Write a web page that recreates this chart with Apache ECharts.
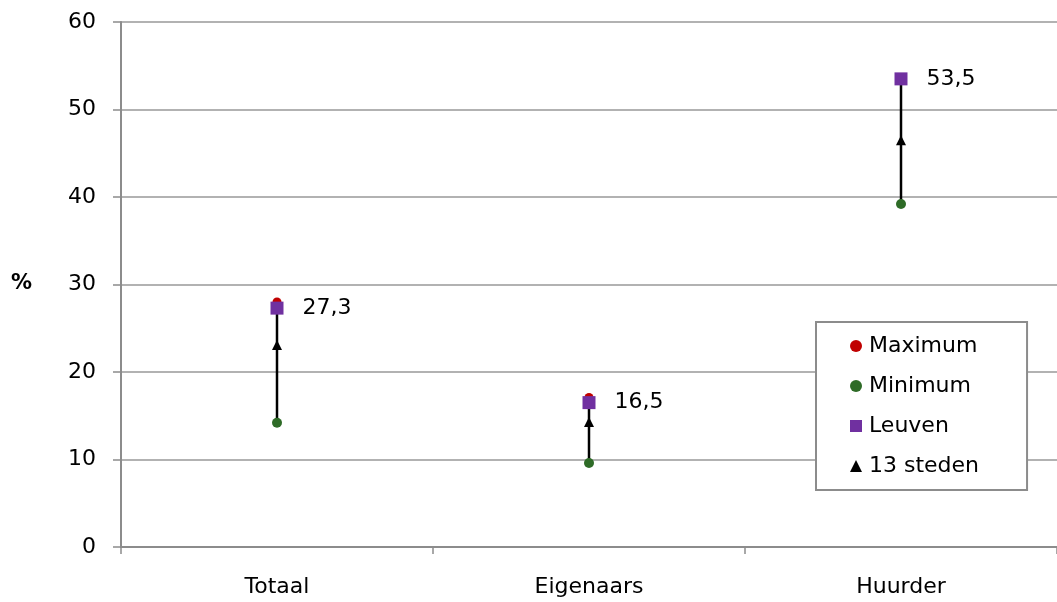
<!DOCTYPE html>
<html>
<head>
<meta charset="utf-8">
<script src="https://cdn.jsdelivr.net/npm/echarts@6/dist/echarts.min.js"></script>
<style>html,body{margin:0;padding:0;background:#fff;}#c{width:1057px;height:602px;}</style>
</head>
<body>
<div id="c"></div>
<script>
const categories = ['Totaal', 'Eigenaars', 'Huurder'];
const maximum = [28.0, 17.1, 53.5];
const minimum = [14.2, 9.6, 39.2];
const leuven = [27.3, 16.5, 53.5];
const steden13 = [23.1, 14.3, 46.5];
const yTicks = [0, 10, 20, 30, 40, 50, 60];

const chart = echarts.init(document.getElementById('c'), null, {renderer: 'canvas'});
const font = 'DejaVu Sans, Verdana, sans-serif';
const gray = '#8c8c8c';

chart.setOption({
  animation: false,
  backgroundColor: '#fff',
  grid: {left: 121, width: 942, top: 22, bottom: 55},
  xAxis: {
    type: 'category',
    data: categories,
    boundaryGap: true,
    axisLine: {lineStyle: {color: gray, width: 2}},
    axisTick: {show: true, interval: 0, length: 7, lineStyle: {color: gray, width: 1.5}},
    axisLabel: {color: '#000', fontFamily: font, fontSize: 22, margin: 29}
  },
  yAxis: {
    type: 'value',
    min: yTicks[0], max: yTicks[yTicks.length - 1], interval: 10,
    axisLine: {show: true, lineStyle: {color: gray, width: 2}},
    axisTick: {show: true, length: 8, lineStyle: {color: gray, width: 1.5}},
    axisLabel: {color: '#000', fontFamily: font, fontSize: 22, margin: 25},
    splitLine: {lineStyle: {color: '#999', width: 1.5}}
  },
  graphic: [{
    type: 'text', left: 11, top: 273,
    style: {text: '%', fontFamily: font, fontSize: 21, fontWeight: 'bold', fill: '#000'}
  }],
  legend: {
    orient: 'vertical',
    left: 816, top: 322,
    backgroundColor: '#fff',
    borderColor: '#8c8c8c', borderWidth: 2,
    padding: [13, 48, 13, 34],
    itemGap: 18,
    itemWidth: 12, itemHeight: 12,
    textStyle: {fontFamily: font, fontSize: 22, color: '#000', padding: [0, 0, 0, 2]},
    data: [
      {name: 'Maximum', icon: 'circle', itemStyle: {color: '#c00000'}},
      {name: 'Minimum', icon: 'circle', itemStyle: {color: '#2e6b27'}},
      {name: 'Leuven', icon: 'rect', itemStyle: {color: '#7030a0'}},
      {name: '13 steden', icon: 'triangle', itemStyle: {color: '#000'}}
    ]
  },
  series: [
    {
      type: 'custom',
      name: 'range',
      silent: true,
      data: categories.map((c, i) => [i, minimum[i], maximum[i]]),
      renderItem: function (params, api) {
        const p1 = api.coord([api.value(0), api.value(1)]);
        const p2 = api.coord([api.value(0), api.value(2)]);
        return {type: 'line', shape: {x1: p1[0], y1: p1[1], x2: p2[0], y2: p2[1]},
          style: {stroke: '#000', lineWidth: 2.5}};
      },
      z: 1
    },
    {type: 'scatter', name: 'Maximum', data: maximum, symbol: 'circle', symbolSize: 9,
      itemStyle: {color: '#c00000', opacity: 1}, z: 2},
    {type: 'scatter', name: 'Minimum', data: minimum, symbol: 'circle', symbolSize: 10,
      itemStyle: {color: '#2e6b27', opacity: 1}, z: 2},
    {type: 'scatter', name: '13 steden', data: steden13, symbol: 'triangle', symbolSize: [10, 10],
      itemStyle: {color: '#000', opacity: 1}, z: 3},
    {type: 'scatter', name: 'Leuven', data: leuven, symbol: 'rect', symbolSize: 13,
      itemStyle: {color: '#7030a0', opacity: 1}, z: 4,
      label: {show: true, position: 'right', distance: 19, fontFamily: font, fontSize: 22, color: '#000',
        formatter: p => String(p.value).replace('.', ',')}}
  ]
});
</script>
</body>
</html>
